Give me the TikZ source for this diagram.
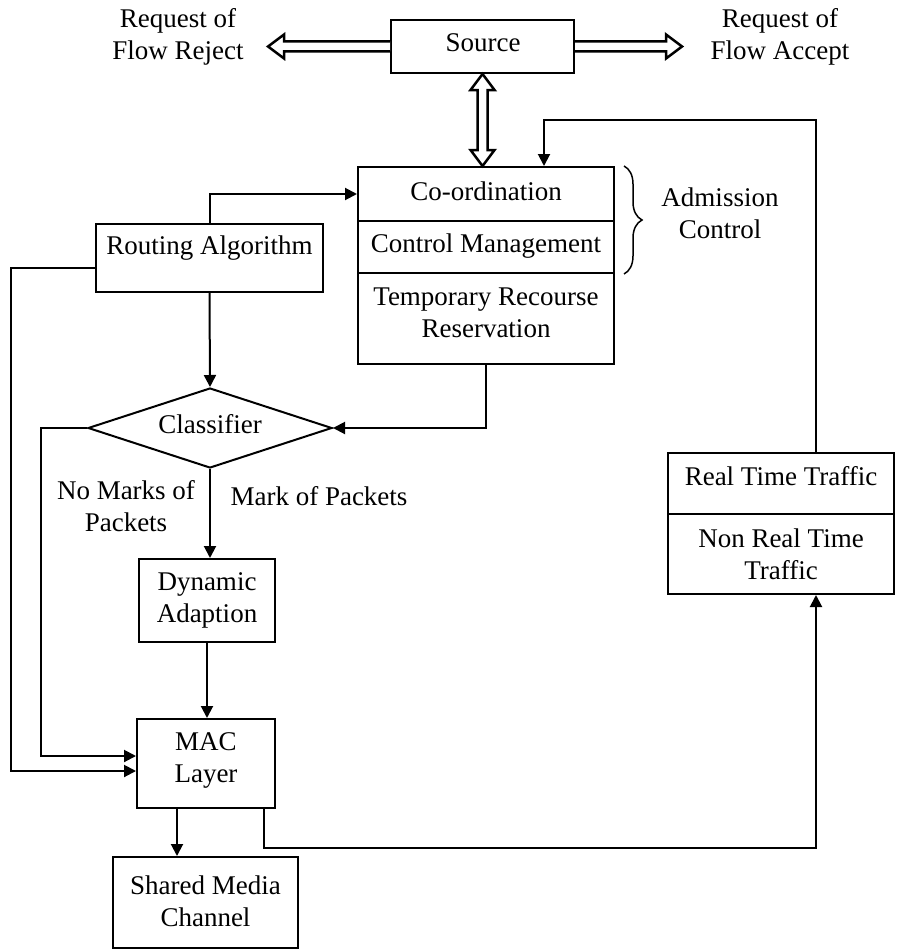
\documentclass[tikz,border=0pt]{standalone}
\usepackage{fontspec}
\setmainfont{Liberation Serif}
\usetikzlibrary{arrows.meta,shapes.geometric,fit,calc,decorations.pathreplacing}
\begin{document}
\begin{tikzpicture}[x=1pt,y=-1pt,
  every node/.style={font=\fontsize{27}{32}\selectfont, align=center},
  box/.style={draw, line width=2pt, inner sep=0pt},
  link/.style={line width=2pt, -{Triangle[length=12pt,width=12pt]}},
  hollow/.style={line width=2.5pt, line join=miter, fill=white},
]
\useasboundingbox (0,0) rectangle (897,950);

% block frames
\node[box, fit={(391,20) (574,73)}] (src) {};
\node[box, fit={(358,167) (614,221)}] (coord) {};
\node[box, fit={(358,221) (614,273)}] (ctrl) {};
\node[box, fit={(358,273) (614,364)}] (temp) {};
\node[box, fit={(96,224) (323,292)}] (route) {};
\node[box, diamond, minimum width=244pt, minimum height=80pt] (cls) at (210,428) {};
\node[box, fit={(139,559) (275,642)}] (dyn) {};
\node[box, fit={(137,719) (275,808)}] (mac) {};
\node[box, fit={(113,857) (298,948)}] (shared) {};
\node[box, fit={(668,453) (894,514)}] (rt) {};
\node[box, fit={(668,514) (894,594)}] (nrt) {};

% block texts
\node (srctext) at (483,43) {Source};
\node (coordtext) at (486,191) {Co-ordination};
\node (ctrltext) at (486,246) {Control Management};
\node (temptext) at (486,313) {Temporary Recourse\\Reservation};
\node (routetext) at (209.5,248) {Routing Algorithm};
\node (clstext) at (210,424) {Classifier};
\node (dyntext) at (207,600) {Dynamic\\Adaption};
\node (mactext) at (206,760) {MAC\\Layer};
\node (sharedtext) at (205.5,901) {Shared Media\\Channel};
\node (rttext) at (781,476) {Real Time Traffic};
\node (nrttext) at (781,554) {Non Real Time\\Traffic};

% labels
\node (rej) at (178,37) {Request of\\Flow Reject};
\node (acc) at (780,37) {Request of\\Flow Accept};
\node (adm) at (720,213) {Admission\\Control};
\node (nomark) at (126,506) {No Marks of\\Packets};
\node (mark) at (319,496) {Mark of Packets};

% brace over the admission control part
\draw[line width=1.5pt, decorate, decoration={brace, amplitude=18pt}]
  ($(coord.north east)+(9,0)$) -- ($(ctrl.south east)+(9,0)$);

% hollow request arrows around the source
\coordinate (rejtip) at ($(src.west)+(-122,0)$);
\coordinate (acctip) at ($(src.east)+(107,0)$);
\coordinate (vtop) at (src.south);
\coordinate (vbot) at (src.south |- coord.north);
\draw[hollow] ($(src.west)+(0,-5)$) -- ($(rejtip)+(16,-5)$) -- ($(rejtip)+(16,-12)$)
  -- (rejtip) -- ($(rejtip)+(16,12)$) -- ($(rejtip)+(16,5)$) -- ($(src.west)+(0,5)$);
\draw[hollow] ($(src.east)+(0,-5)$) -- ($(acctip)+(-16,-5)$) -- ($(acctip)+(-16,-12)$)
  -- (acctip) -- ($(acctip)+(-16,12)$) -- ($(acctip)+(-16,5)$) -- ($(src.east)+(0,5)$);
\draw[hollow] (vtop) -- ($(vtop)+(12,16)$) -- ($(vtop)+(5,16)$) -- ($(vbot)+(5,-16)$)
  -- ($(vbot)+(12,-16)$) -- (vbot) -- ($(vbot)+(-12,-16)$) -- ($(vbot)+(-5,-16)$)
  -- ($(vtop)+(-5,16)$) -- ($(vtop)+(-12,16)$) -- cycle;

% flow connectors
\draw[link] (route.north) |- (coord.west);
\draw[link] (route.south) -- (cls.north);
\draw[link] (temp.south) |- (cls.east);
\draw[link] ($(route.west)+(0,10)$) -- ++(-84,0) |- ($(mac.west)+(0,7.5)$);
\draw[link] (cls.west) -- ++(-46,0) |- ($(mac.west)+(0,-7.5)$);
\draw[link] (cls.south) -- (cls.south |- dyn.north);
\draw[link] (dyn.south) -- (dyn.south |- mac.north);
\coordinate (macout) at ($(mac.south)+(-29,0)$);
\draw[link] (macout) -- (macout |- shared.north);
\coordinate (macright) at ($(mac.south east)+(-12,0)$);
\coordinate (nrtin) at ($(nrt.south east)+(-79,0)$);
\draw[link] (macright) -- ++(0,39) -| (nrtin);
\coordinate (rtout) at ($(rt.north east)+(-79,0)$);
\coordinate (coordin) at ($(coord.north west)+(187,0)$);
\draw[link] (rtout) -- ++(0,-332) -| (coordin);
\end{tikzpicture}
\end{document}
